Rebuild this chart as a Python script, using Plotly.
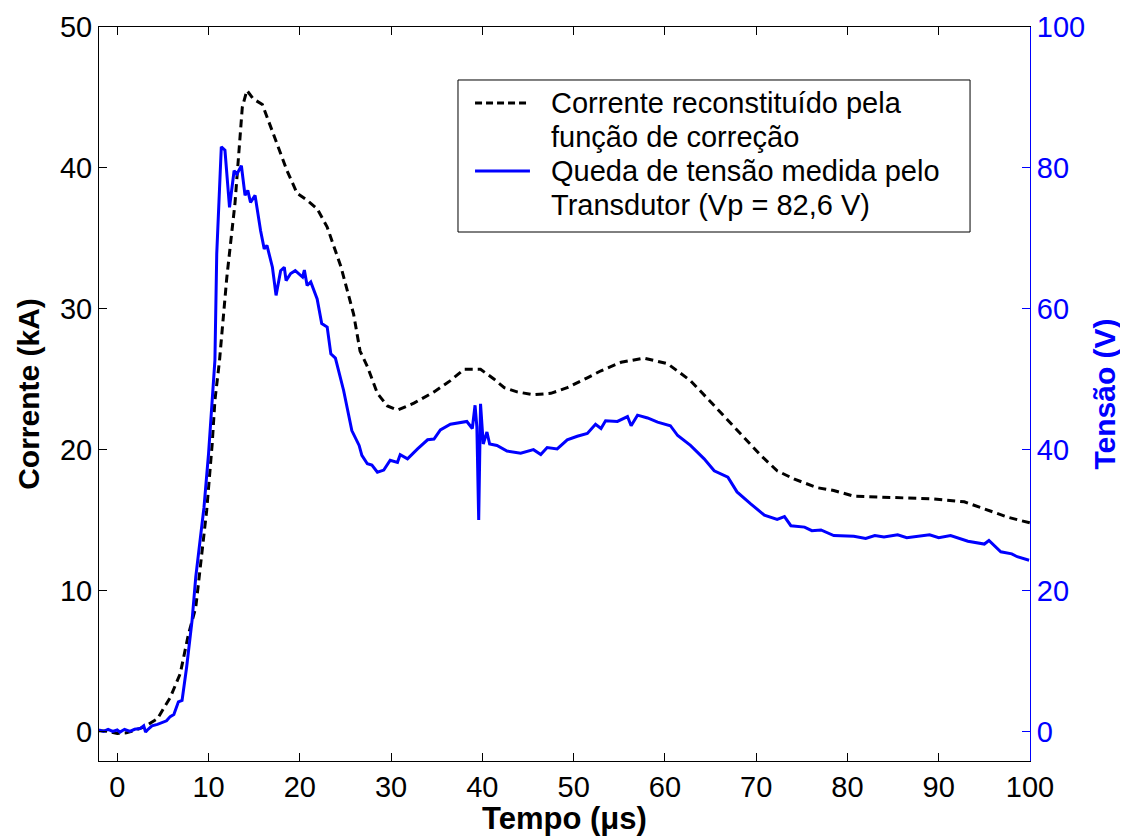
import plotly.graph_objects as go

# Corrente reconstituída (kA) - eixo esquerdo
t_corrente = [-2.0, -1.0, 0.0, 1.0, 2.0, 2.9, 4.4, 5.8, 6.9, 7.8, 8.6, 9.1, 9.8, 10.4, 10.7,
              11.2, 12.0, 12.9, 13.7, 14.2, 14.9, 15.9, 17.1, 18.6, 19.7, 20.8, 21.9, 23.0,
              24.5, 25.9, 26.6, 27.4, 28.5, 29.6, 30.7, 32.5, 34.7, 36.5, 38.0, 39.8, 41.3,
              42.4, 43.8, 45.6, 47.5, 49.3, 51.5, 53.0, 55.2, 57.7, 60.3, 62.8, 65.0, 66.9,
              68.7, 70.5, 72.3, 74.2, 76.7, 78.5, 80.7, 85.1, 89.5, 92.8, 95.0, 97.6, 100.0]
corrente_kA = [0.05, 0.0, -0.15, -0.1, 0.1, 0.3, 0.9, 2.4, 4.1, 6.9, 8.8, 11.7, 15.7, 20.4, 23.5,
               26.3, 32.2, 37.5, 44.3, 45.5, 44.9, 44.5, 42.4, 39.8, 38.2, 37.7, 37.1, 35.8,
               33.0, 29.6, 27.0, 25.9, 24.0, 23.1, 22.8, 23.3, 24.1, 24.9, 25.7, 25.7, 25.0,
               24.4, 24.1, 23.9, 24.0, 24.4, 25.1, 25.6, 26.2, 26.5, 26.1, 24.9, 23.4, 22.1,
               20.8, 19.6, 18.5, 17.9, 17.3, 17.1, 16.7, 16.6, 16.5, 16.3, 15.8, 15.2, 14.8]

# Queda de tensão medida (V) - eixo direito
t_tensao = [-2.0, -1.5, -1.0, -0.5, 0.0, 0.3, 0.8, 1.4, 1.9, 2.5, 2.9, 3.1, 3.3, 3.8, 4.4,
            4.9, 5.4, 5.8, 6.2, 6.7, 7.1, 7.6, 8.2, 8.6, 8.9, 9.5, 10.0, 10.4, 10.7, 10.9,
            11.4, 11.8, 12.3, 12.8, 13.1, 13.6, 14.0, 14.3, 14.6, 15.1, 15.7, 16.1, 16.4,
            17.0, 17.4, 17.9, 18.3, 18.5, 19.0, 19.5, 20.3, 20.5, 20.8, 21.2, 21.9, 22.4,
            23.0, 23.4, 23.9, 24.8, 25.7, 26.5, 26.8, 27.4, 27.9, 28.5, 29.2, 29.9, 30.7,
            31.0, 31.8, 32.9, 34.0, 34.7, 35.4, 36.5, 37.6, 38.3, 38.9, 39.2, 39.4, 39.6,
            39.8, 40.1, 40.5, 40.8, 41.6, 42.7, 44.2, 45.6, 46.4, 47.1, 48.2, 49.3, 50.4,
            51.5, 52.4, 53.0, 53.5, 54.8, 55.9, 56.3, 57.0, 58.1, 59.2, 60.6, 61.4, 62.8,
            64.3, 65.4, 66.9, 67.9, 69.4, 70.9, 72.3, 73.1, 73.8, 75.3, 76.1, 77.1, 78.5,
            80.7, 82.0, 83.0, 84.0, 85.5, 86.5, 87.7, 89.0, 90.0, 91.3, 93.2, 95.0, 95.5,
            96.8, 98.0, 98.6, 99.9]
tensao_V = [0.2, 0.0, 0.3, 0.0, 0.2, -0.1, 0.3, 0.0, 0.3, 0.4, 0.8, -0.1, 0.2, 0.8, 1.0,
            1.3, 1.5, 2.1, 2.4, 4.2, 4.4, 9.1, 15.8, 21.9, 25.2, 31.8, 39.4, 47.0, 52.7, 67.8,
            83.0, 82.5, 74.4, 79.6, 79.1, 80.3, 76.1, 76.8, 75.1, 76.1, 71.1, 68.5, 69.0,
            65.9, 61.9, 65.4, 65.9, 64.0, 65.0, 65.4, 64.5, 65.5, 63.3, 63.8, 61.4, 57.9,
            57.4, 53.6, 53.0, 48.4, 42.7, 40.6, 39.2, 38.0, 37.8, 36.8, 37.1, 38.5, 38.2,
            39.3, 38.7, 40.1, 41.4, 41.5, 42.8, 43.6, 43.8, 44.0, 43.0, 46.3, 43.2, 30.0,
            46.5, 40.8, 42.5, 40.8, 40.6, 39.8, 39.5, 40.0, 39.3, 40.3, 40.1, 41.4, 41.9,
            42.3, 43.6, 43.0, 44.1, 44.0, 44.7, 43.4, 44.9, 44.5, 43.9, 43.4, 42.0, 40.6,
            38.7, 37.0, 36.1, 34.0, 32.3, 30.7, 30.1, 30.5, 29.2, 29.0, 28.5, 28.6, 27.8,
            27.7, 27.4, 27.8, 27.6, 27.9, 27.5, 27.7, 27.9, 27.5, 27.8, 27.0, 26.6, 27.1,
            25.5, 25.2, 24.8, 24.3]

x_ticks = [0, 10, 20, 30, 40, 50, 60, 70, 80, 90, 100]
y_ticks = [0, 10, 20, 30, 40, 50]
y2_ticks = [0, 20, 40, 60, 80, 100]

legend_lines = ["Corrente reconstituído pela", "função de correção",
                "Queda de tensão medida pelo", "Transdutor (Vp = 82,6 V)"]

FONT = "Liberation Sans, Arial, sans-serif"
BLUE = "#0000FF"

fig = go.Figure()
fig.add_trace(go.Scatter(
    x=t_corrente, y=corrente_kA, mode="lines",
    name="Corrente reconstituído pela função de correção",
    line=dict(color="black", width=3, dash="8px,5px"),
))
fig.add_trace(go.Scatter(
    x=t_tensao, y=tensao_V, mode="lines", yaxis="y2",
    name="Queda de tensão medida pelo Transdutor (Vp = 82,6 V)",
    line=dict(color=BLUE, width=3),
))

# Legend box drawn in paper coordinates
fig.add_shape(type="rect", xref="paper", yref="paper", x0=0.3856, x1=0.9356,
              y0=0.7207, y1=0.9278, line=dict(color="black", width=1),
              fillcolor="white", layer="above")
fig.add_shape(type="line", xref="paper", yref="paper", x0=0.4039, x1=0.4629,
              y0=0.8965, y1=0.8965, line=dict(color="black", width=3, dash="7px,4px"),
              layer="above")
fig.add_shape(type="line", xref="paper", yref="paper", x0=0.4039, x1=0.4629,
              y0=0.8038, y1=0.8038, line=dict(color=BLUE, width=3), layer="above")
for txt, yy in zip(legend_lines, [0.8965, 0.8501, 0.8038, 0.7575]):
    fig.add_annotation(text=txt, xref="paper", yref="paper", x=0.4833, y=yy,
                       xanchor="left", yanchor="middle", showarrow=False,
                       font=dict(size=29, color="black", family=FONT))

fig.update_layout(
    width=1120, height=828,
    margin=dict(l=91, r=98, t=19, b=75),
    paper_bgcolor="white", plot_bgcolor="white",
    font=dict(family=FONT, size=28, color="black"),
    showlegend=False,
    xaxis=dict(
        range=[-2, 100], tickvals=x_ticks, ticks="inside", ticklen=8, tickwidth=1,
        tickcolor="black", showline=True, linecolor="black", linewidth=1, mirror="ticks",
        showgrid=False, zeroline=False, tickfont=dict(size=29), automargin=False,
        title=dict(text="<b>Tempo (μs)</b>", font=dict(size=31), standoff=9),
    ),
    yaxis=dict(
        range=[-2.1, 50], tickvals=y_ticks, ticks="inside", ticklen=8, tickwidth=1,
        tickcolor="black", showline=True, linecolor="black", linewidth=1,
        showgrid=False, zeroline=False, tickfont=dict(size=29), automargin=False,
        title=dict(text="<b>Corrente (kA)</b>", font=dict(size=30), standoff=11),
    ),
    yaxis2=dict(
        range=[-4.2, 100], tickvals=y2_ticks, overlaying="y", side="right",
        ticks="inside", ticklen=8, tickwidth=1, tickcolor=BLUE,
        showline=True, linecolor=BLUE, linewidth=1, automargin=False,
        showgrid=False, zeroline=False, tickfont=dict(size=29, color=BLUE),
        title=dict(text="<b>Tensão (V)</b>", font=dict(size=30, color=BLUE), standoff=9),
    ),
)

fig.write_html("out.html")
